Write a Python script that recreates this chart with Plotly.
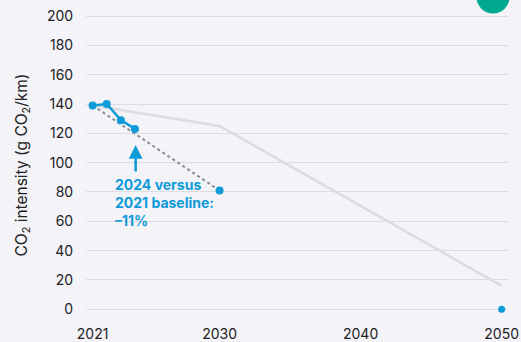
import plotly.graph_objects as go

# ---- data ----
actual_years = [2021, 2022, 2023, 2024]
actual_values = [139, 140, 129, 123]

target_years = [2021, 2030]
target_values = [139, 81]

pathway_years = [2021, 2030, 2050]
pathway_values = [139, 125, 16]

netzero_years = [2050]
netzero_values = [0]

x_ticks = [2021, 2030, 2040, 2050]
y_ticks = [0, 20, 40, 60, 80, 100, 120, 140, 160, 180, 200]

BLUE = "#0E9BD8"
GREY_PATH = "#DCDCDF"
BG = "#F3F3F8"
GRID = "#DCDCE1"
TEXT = "#222222"
FONT = "Inter"

fig = go.Figure()

fig.add_trace(go.Scatter(
    x=pathway_years, y=pathway_values, mode="lines",
    line=dict(color=GREY_PATH, width=2.5), hoverinfo="skip", showlegend=False))

fig.add_trace(go.Scatter(
    x=target_years, y=target_values, mode="lines",
    line=dict(color="#8A8A90", width=2, dash="dot"),
    showlegend=False))

fig.add_trace(go.Scatter(
    x=target_years[1:], y=target_values[1:], mode="markers",
    marker=dict(size=8, color=BLUE), showlegend=False))

fig.add_trace(go.Scatter(
    x=actual_years, y=actual_values, mode="lines+markers",
    line=dict(color=BLUE, width=2.5),
    marker=dict(size=8, color=BLUE),
    showlegend=False))

fig.add_trace(go.Scatter(
    x=netzero_years, y=netzero_values, mode="markers",
    marker=dict(size=7, color=BLUE), showlegend=False, cliponaxis=False))

# arrow
fig.add_annotation(x=2024.05, y=112, ax=2024.05, ay=93, xref="x", yref="y",
                   axref="x", ayref="y", text="", showarrow=True,
                   arrowhead=2, arrowsize=1.1, arrowwidth=2.5, arrowcolor=BLUE)

fig.add_annotation(x=2022.45, y=92.5, xref="x", yref="y", xanchor="left", yanchor="top",
                   text="<b>2024 versus<br>2021 baseline:<br>\u201311%</b>",
                   showarrow=False, align="left",
                   font=dict(family=FONT, size=14, color=BLUE))

# teal decorative circle
fig.add_shape(type="circle", xref="paper", yref="paper",
              xsizemode="pixel", ysizemode="pixel",
              xanchor=(493 - 86) / 422, yanchor=1 + 13 / 310,
              x0=-16.5, x1=16.5, y0=-16.5, y1=16.5,
              fillcolor="#00A98F", line=dict(width=0), layer="above")

fig.update_layout(
    width=521, height=342,
    margin=dict(l=86, r=13, t=10, b=22, autoexpand=False),
    paper_bgcolor=BG, plot_bgcolor=BG,
    font=dict(family=FONT, size=14, color=TEXT),
    xaxis=dict(range=[2020.53, 2050.45], tickvals=x_ticks, showgrid=False,
               zeroline=False, showline=False, ticks="outside", ticklen=1,
               tickcolor="rgba(0,0,0,0)", tickfont=dict(size=14, color=TEXT)),
    yaxis=dict(range=[-7.3, 204.1], tickvals=y_ticks, showgrid=True,
               gridcolor=GRID, gridwidth=1.2, zeroline=False, showline=False,
               ticks="outside", ticklen=9, tickcolor="rgba(0,0,0,0)",
               tickfont=dict(size=14, color=TEXT),
               title=dict(text="CO<sub>2</sub> intensity (g CO<sub>2</sub>/km)",
                          font=dict(size=15.5, color=TEXT), standoff=15)),
)

fig.write_html(
    "out.html",
    config={"displayModeBar": False},
    post_script="document.body.style.margin='0';document.body.style.background='#F3F3F8';document.body.style.overflow='hidden';",
)
